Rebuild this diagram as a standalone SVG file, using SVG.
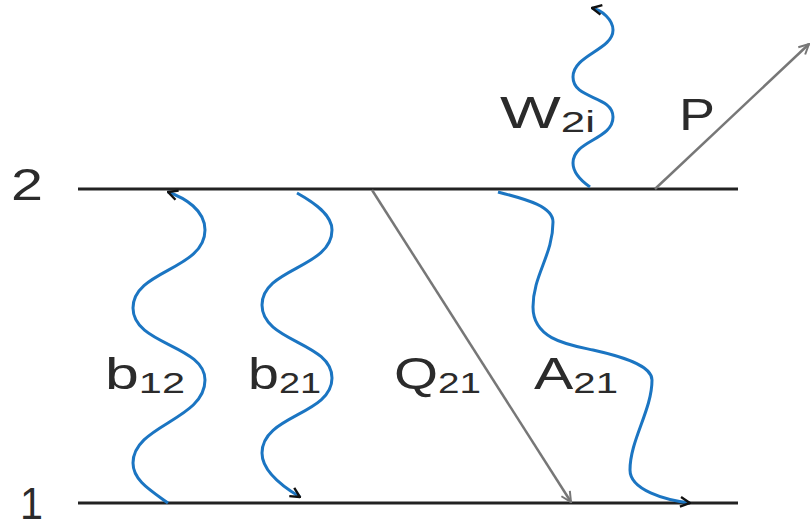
<svg xmlns="http://www.w3.org/2000/svg" width="811" height="526" viewBox="0 0 811 526">
<style>
.lvl{stroke:#222;stroke-width:3;fill:none}
.wave{stroke:#1b75c2;stroke-width:3;fill:none;marker-end:url(#ab)}
.gl{stroke:#777;stroke-width:2.5;fill:none;marker-end:url(#ag)}
text{font-family:"Liberation Sans",Arial,sans-serif;fill:#2b2b2b}
.big{font-size:44px}
.sub{font-size:30px}
</style>
<defs>
<marker id="ab" viewBox="0 0 10 10" refX="9" refY="5" markerWidth="4" markerHeight="4" orient="auto" markerUnits="strokeWidth">
<path d="M1,1 L9,5 L1,9" fill="none" stroke="#111" stroke-width="2"/>
</marker>
<marker id="ag" viewBox="0 0 10 10" refX="9" refY="5" markerWidth="5" markerHeight="5" orient="auto" markerUnits="strokeWidth">
<path d="M1,1 L9,5 L1,9" fill="none" stroke="#777" stroke-width="1.6"/>
</marker>
</defs>
<g id="level2"><line class="lvl" x1="78" y1="189" x2="738" y2="189"/><text class="big" x="11" y="200" textLength="32" lengthAdjust="spacingAndGlyphs">2</text></g>
<g id="level1"><line class="lvl" x1="78" y1="503" x2="738" y2="503"/><text class="big" x="20" y="519" textLength="23" lengthAdjust="spacingAndGlyphs">1</text></g>
<g id="connectors">
<path id="b12" class="wave" d="M168,503 C150,490 133,480 133,463 C133,425 205,420 205,380 C205,345 133,345 133,308 C133,270 205,270 205,230 C205,210 185,198 168,192"/>
<path id="b21" class="wave" d="M297,193 C315,203 332,215 332,230 C332,268 262,268 262,305 C262,342 332,342 332,378 C332,415 262,415 262,453 C262,472 285,488 300,497"/>
<path id="A21" class="wave" d="M498,192 C520,198 553,205 553,222 C553,255 533,275 533,307 C533,340 570,345 593,350 C620,356 652,365 652,380 C652,410 630,440 630,470 C630,490 665,500 690,503"/>
<path id="W2i" class="wave" d="M590,187 C580,180 573,172 573,163 C573,140 613,140 613,117 C613,95 573,100 573,77 C573,55 613,50 613,30 C613,20 602,10 592,8"/>
<line id="Q21" class="gl" x1="372" y1="190" x2="571" y2="502"/>
<line id="P" class="gl" x1="655" y1="189" x2="809" y2="44"/>
</g>
<g id="labels">
<text x="105" y="389" textLength="80" lengthAdjust="spacingAndGlyphs"><tspan class="big">b</tspan><tspan class="sub" dy="4">12</tspan></text>
<text x="248" y="389" textLength="73" lengthAdjust="spacingAndGlyphs"><tspan class="big">b</tspan><tspan class="sub" dy="4">21</tspan></text>
<text x="394" y="389" textLength="87" lengthAdjust="spacingAndGlyphs"><tspan class="big">Q</tspan><tspan class="sub" dy="4">21</tspan></text>
<text x="534" y="389" textLength="84" lengthAdjust="spacingAndGlyphs"><tspan class="big">A</tspan><tspan class="sub" dy="4">21</tspan></text>
<text x="500" y="128" textLength="95" lengthAdjust="spacingAndGlyphs"><tspan class="big">W</tspan><tspan class="sub" dy="4">2i</tspan></text>
<text class="big" x="679" y="130" textLength="36" lengthAdjust="spacingAndGlyphs">P</text>
</g>
</svg>
